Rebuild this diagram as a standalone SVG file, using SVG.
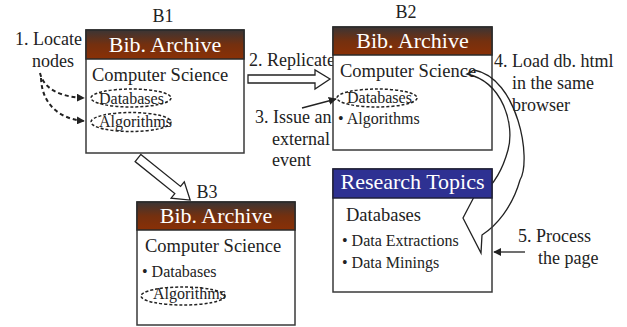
<svg xmlns="http://www.w3.org/2000/svg" width="627" height="327" viewBox="0 0 627 327" font-family="'Liberation Serif', 'Times New Roman', Times, serif">
  <defs>
    <linearGradient id="bibHeader" x1="0" y1="0" x2="0" y2="1">
      <stop offset="0" stop-color="#3b3535"/>
      <stop offset="0.5" stop-color="#74300f"/>
      <stop offset="1" stop-color="#8a3006"/>
    </linearGradient>
    <marker id="head" viewBox="0 0 10 10" refX="9" refY="5" markerWidth="8" markerHeight="8" markerUnits="userSpaceOnUse" orient="auto">
      <path d="M0,0 L10,5 L0,10 Z" fill="#222"/>
    </marker>
  </defs>
  <style>
    text { fill: #222; }
    .label { font-size: 18px; }
    .hdr { font-size: 22px; fill: #ffffff; text-anchor: middle; }
    .title { font-size: 18.5px; }
    .item { font-size: 16px; }
    .body { fill: #ffffff; stroke: #3a3a3a; stroke-width: 1.5; }
    .bodyOpen { fill: none; stroke: #3a3a3a; stroke-width: 1.5; }
    .mark { fill: none; stroke: #222; stroke-width: 1.5; stroke-dasharray: 3 2; }
    .dash { fill: none; stroke: #222; stroke-width: 2; stroke-dasharray: 4 3; }
    .line { fill: none; stroke: #222; stroke-width: 1.3; }
    .hollow { fill: #ffffff; stroke: #222; stroke-width: 1.3; }
  </style>

  <!-- free-standing step labels -->
  <g id="labels">
    <text class="label" x="15" y="45">1. Locate</text>
    <text class="label" x="32" y="67">nodes</text>
    <text class="label" x="249" y="66">2. Replicate</text>
    <text class="label" x="255" y="123">3. Issue an</text>
    <text class="label" x="272" y="145">external</text>
    <text class="label" x="272" y="166">event</text>
    <text class="label" x="494" y="67">4. Load db. html</text>
    <text class="label" x="512" y="89">in the same</text>
    <text class="label" x="512" y="111">browser</text>
    <text class="label" x="518" y="242">5. Process</text>
    <text class="label" x="538" y="264">the page</text>
  </g>

  <!-- browser window B1 -->
  <g id="b1">
    <text class="label" x="163" y="22" text-anchor="middle">B1</text>
    <rect class="body" x="86" y="30" width="158" height="123"/>
    <rect x="86" y="30" width="158" height="29" fill="url(#bibHeader)" stroke="#2a2a2a" stroke-width="1.5"/>
    <text class="hdr" x="165" y="52">Bib. Archive</text>
    <text class="title" x="92" y="81">Computer Science</text>
    <text class="item" x="99" y="104">Databases</text>
    <ellipse class="mark" cx="131" cy="98" rx="40" ry="9"/>
    <text class="item" x="99" y="127">Algorithms</text>
    <ellipse class="mark" cx="131" cy="122" rx="40" ry="9.5"/>
  </g>

  <!-- browser window B2 -->
  <g id="b2">
    <text class="label" x="406" y="18" text-anchor="middle">B2</text>
    <rect class="body" x="333" y="27" width="159" height="123"/>
    <rect x="333" y="27" width="159" height="28" fill="url(#bibHeader)" stroke="#2a2a2a" stroke-width="1.5"/>
    <text class="hdr" x="412.5" y="48">Bib. Archive</text>
    <text class="title" x="340" y="77">Computer Science</text>
    <text class="item" x="347" y="103">Databases</text>
    <ellipse class="mark" cx="377" cy="98" rx="40" ry="9"/>
    <text class="item" x="338" y="124">• Algorithms</text>
  </g>

  <!-- browser window B3 -->
  <g id="b3">
    <text class="label" x="207" y="198" text-anchor="middle">B3</text>
    <rect class="body" x="137" y="202" width="158" height="123"/>
    <rect x="137" y="202" width="158" height="28" fill="url(#bibHeader)" stroke="#2a2a2a" stroke-width="1.5"/>
    <text class="hdr" x="216" y="223">Bib. Archive</text>
    <text class="title" x="145" y="252">Computer Science</text>
    <text class="item" x="142" y="277">• Databases</text>
    <text class="item" x="153" y="299">Algorithms</text>
    <ellipse class="mark" cx="183" cy="296" rx="42" ry="9"/>
  </g>

  <!-- connectors -->
  <g id="connectors">
    <!-- 1. locate nodes -->
    <path class="dash" d="M40,73 C44,90 62,97 84,98" marker-end="url(#head)"/>
    <path class="dash" d="M41,78 C42,105 60,119 84,121" marker-end="url(#head)"/>
    <!-- 2. replicate B1 -> B2 -->
    <path class="hollow" d="M248,75 L315,75 L315,70 L330,79 L315,89 L315,83 L248,83 Z"/>
    <!-- replicate B1 -> B3 -->
    <path class="hollow" transform="translate(138,158) rotate(38.9)" d="M0,-4.6 L51,-4.6 L51,-10.5 L67,0 L51,10.5 L51,4.6 L0,4.6 Z"/>
    <!-- 3. external event -->
    <path class="line" d="M302,108 L336,99" marker-end="url(#head)"/>
    <!-- 4. load db.html in the same browser -->
    <path class="line" d="M467,74 C503,82 515,125 508,150 C502,172 492,186 482,194 L475,195 L463,218 L481,253 L482,235 C496,226 512,208 520,180 C532,160 518,78 474,70 Z"/>
    <!-- 5. process the page -->
    <path class="line" d="M525,252 L494,252" marker-end="url(#head)"/>
  </g>

  <!-- loaded page -->
  <g id="research-topics">
    <rect class="bodyOpen" x="333" y="169" width="159" height="123"/>
    <rect x="333" y="169" width="159" height="29" fill="#2e3192" stroke="#1f1f3a" stroke-width="1.5"/>
    <text class="hdr" x="412.5" y="189">Research Topics</text>
    <text class="title" x="346" y="221">Databases</text>
    <text class="item" x="342" y="246">• Data Extractions</text>
    <text class="item" x="342" y="268">• Data Minings</text>
  </g>
</svg>
